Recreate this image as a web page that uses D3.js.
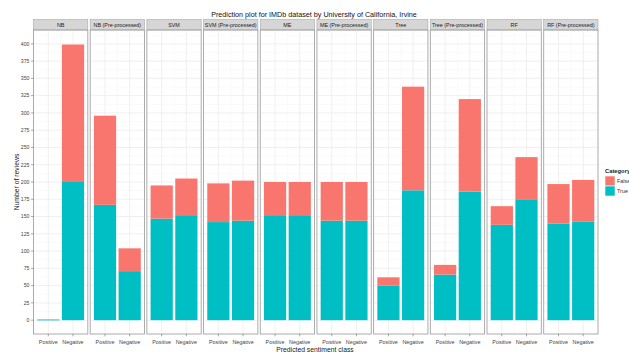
<!DOCTYPE html>
<html>
<head>
<meta charset="utf-8">
<script src="https://cdn.jsdelivr.net/npm/d3@7"></script>
<style>
  html, body { margin: 0; padding: 0; background: #ffffff; }
  svg { display: block; font-family: "Liberation Sans", Arial, sans-serif; }
</style>
</head>
<body>
<svg id="chart" width="629" height="352"></svg>
<script>
// Classifier panels (facets) and predicted classes
const models = ["NB", "NB (Pre-processed)", "SVM", "SVM (Pre-processed)", "ME",
                "ME (Pre-processed)", "Tree", "Tree (Pre-processed)", "RF", "RF (Pre-processed)"];
const classes = ["Positive", "Negative"];
const categories = ["False", "True"];

// Correct predictions per model: [Positive, Negative]
const trueCounts = [
  [1, 200], [167, 71], [147, 152], [142, 144], [152, 152],
  [144, 144], [50, 188], [66, 186], [138, 174], [140, 143]
];
// Wrong predictions per model: [Positive, Negative]
const falseCounts = [
  [0, 199], [129, 33], [48, 53], [56, 58], [48, 48],
  [56, 56], [12, 150], [14, 134], [27, 62], [57, 60]
];

const yTicks = d3.range(0, 401, 25);
const colors = { "False": "#F8766D", "True": "#00BFC4" };

const svg = d3.select("#chart");
svg.append("rect").attr("width", 629).attr("height", 352).attr("fill", "#ffffff");

const panelTop = 30, panelBottom = 334, stripH = 10.5;
const facet = d3.scaleBand().domain(models).range([33.5, 598]).paddingInner(0.042);
const y = d3.scaleLinear().domain([-20, 420]).range([panelBottom, panelTop]);
const x = d3.scaleBand().domain(classes).range([0, facet.bandwidth()])
  .paddingInner(0.1).paddingOuter(0.15);

// Title
svg.append("text")
  .attr("x", 314).attr("y", 17)
  .attr("text-anchor", "middle")
  .attr("font-size", 7.2).attr("fill", "#111")
  .text("Prediction plot for IMDb dataset by University of California, Irvine");

models.forEach((m, i) => {
  const g = svg.append("g").attr("transform", `translate(${facet(m)},0)`);
  const w = facet.bandwidth();

  // Strip header
  g.append("rect")
    .attr("x", 0).attr("y", panelTop - stripH).attr("width", w).attr("height", stripH)
    .attr("fill", "#d6d6d6").attr("stroke", "#a8a8a8").attr("stroke-width", 0.6);
  g.append("text")
    .attr("x", w / 2).attr("y", panelTop - stripH / 2 + 1.9)
    .attr("text-anchor", "middle").attr("font-size", 5.4).attr("fill", "#222")
    .text(m);

  // Grid lines
  const minor = d3.range(12.5, 420, 25);
  g.selectAll(".ymin").data(minor).join("line")
    .attr("x1", 0).attr("x2", w)
    .attr("y1", d => y(d)).attr("y2", d => y(d))
    .attr("stroke", "#f4f4f4").attr("stroke-width", 0.5);
  g.selectAll(".ymaj").data(yTicks).join("line")
    .attr("x1", 0).attr("x2", w)
    .attr("y1", d => y(d)).attr("y2", d => y(d))
    .attr("stroke", "#e9e9e9").attr("stroke-width", 0.7);
  g.append("line")
    .attr("x1", w / 2).attr("x2", w / 2).attr("y1", panelTop).attr("y2", panelBottom)
    .attr("stroke", "#f4f4f4").attr("stroke-width", 0.5);
  g.selectAll(".xmaj").data(classes).join("line")
    .attr("x1", d => x(d) + x.bandwidth() / 2).attr("x2", d => x(d) + x.bandwidth() / 2)
    .attr("y1", panelTop).attr("y2", panelBottom)
    .attr("stroke", "#e9e9e9").attr("stroke-width", 0.7);

  // Stacked bars: True at the bottom, False on top
  classes.forEach((c, j) => {
    const t = trueCounts[i][j], f = falseCounts[i][j];
    const segs = [
      { cat: "True", y0: 0, y1: t },
      { cat: "False", y0: t, y1: t + f }
    ].filter(s => s.y1 > s.y0);
    g.selectAll(null).data(segs).join("rect")
      .attr("x", x(c)).attr("width", x.bandwidth())
      .attr("y", s => y(s.y1)).attr("height", s => Math.max(0.9, y(s.y0) - y(s.y1)))
      .attr("fill", s => colors[s.cat]);
  });

  // Panel border
  g.append("rect")
    .attr("x", 0).attr("y", panelTop).attr("width", w).attr("height", panelBottom - panelTop)
    .attr("fill", "none").attr("stroke", "#a3a3a3").attr("stroke-width", 0.9);

  // X axis ticks and labels
  const xa = g.append("g");
  classes.forEach(c => {
    const cx = x(c) + x.bandwidth() / 2;
    xa.append("line").attr("x1", cx).attr("x2", cx).attr("y1", panelBottom).attr("y2", panelBottom + 2.3)
      .attr("stroke", "#555").attr("stroke-width", 0.5);
    xa.append("text").attr("x", cx).attr("y", panelBottom + 10.3)
      .attr("text-anchor", "middle").attr("font-size", 5.4).attr("fill", "#444")
      .text(c);
  });
});

// Y axis
const ya = svg.append("g");
yTicks.forEach(v => {
  ya.append("line").attr("x1", 31).attr("x2", 33.5).attr("y1", y(v)).attr("y2", y(v))
    .attr("stroke", "#555").attr("stroke-width", 0.5);
  ya.append("text").attr("x", 29.5).attr("y", y(v) + 1.8)
    .attr("text-anchor", "end").attr("font-size", 5.2).attr("fill", "#444")
    .text(v);
});

// Axis titles
svg.append("text")
  .attr("transform", `translate(19,${(panelTop + panelBottom) / 2}) rotate(-90)`)
  .attr("text-anchor", "middle").attr("font-size", 6.8).attr("fill", "#222")
  .text("Number of reviews");
svg.append("text")
  .attr("x", 315).attr("y", 352)
  .attr("text-anchor", "middle").attr("font-size", 6.8).attr("fill", "#222")
  .text("Predicted sentiment class");

// Legend
const lg = svg.append("g").attr("transform", "translate(605,0)");
lg.append("text").attr("x", 0).attr("y", 172.5)
  .attr("font-size", 5.8).attr("font-weight", "bold").attr("fill", "#222").text("Category");
categories.forEach((c, k) => {
  lg.append("rect").attr("x", 0).attr("y", 176 + k * 10).attr("width", 10).attr("height", 10)
    .attr("fill", colors[c]).attr("stroke", "#ffffff").attr("stroke-width", 0.6);
  lg.append("text").attr("x", 12).attr("y", 183 + k * 10)
    .attr("font-size", 5.4).attr("fill", "#333").text(c);
});
</script>
</body>
</html>
